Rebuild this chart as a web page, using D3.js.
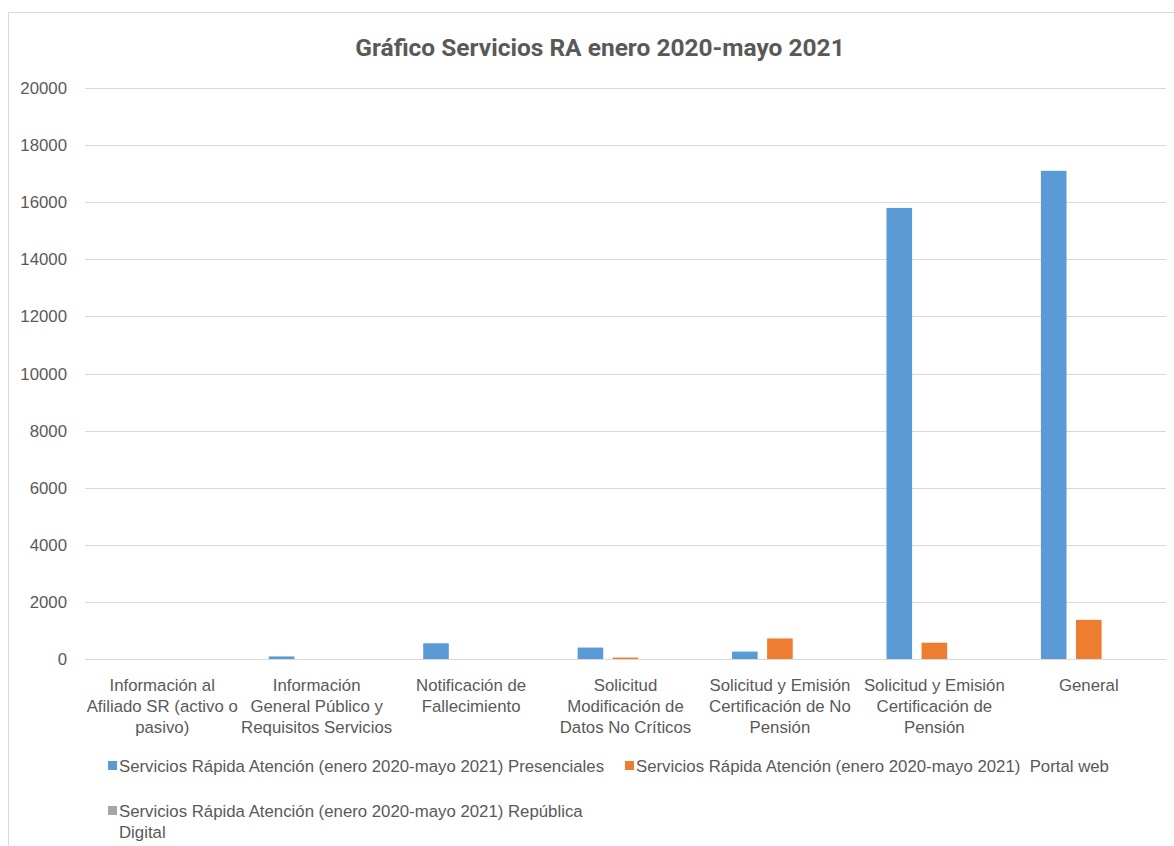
<!DOCTYPE html>
<meta charset="utf-8">
<style>
body { margin: 0; background: #fff; }
text { font-family: "Liberation Sans", Arial, sans-serif; fill: #595959; }
.title { font-family: Roboto, sans-serif; font-weight: bold; font-size: 24.5px; }
.tick-label { font-size: 16.8px; }
.cat-label { font-size: 16.8px; }
.legend-label { font-size: 16.8px; }
.grid line { stroke: #d9d9d9; stroke-width: 1; }
</style>
<svg width="1174" height="846"></svg>
<script src="https://d3js.org/d3.v7.min.js"></script>
<script>

var categories = [
  "Información al|Afiliado SR (activo o|pasivo)",
  "Información|General Público y|Requisitos Servicios",
  "Notificación de|Fallecimiento",
  "Solicitud|Modificación de|Datos No Críticos",
  "Solicitud y Emisión|Certificación de No|Pensión",
  "Solicitud y Emisión|Certificación de|Pensión",
  "General"
];
var seriesNames = [
  "Servicios Rápida Atención (enero 2020-mayo 2021) Presenciales",
  "Servicios Rápida Atención (enero 2020-mayo 2021)  Portal web",
  "Servicios Rápida Atención (enero 2020-mayo 2021) República|Digital"
];
var presenciales = [0, 90, 550, 400, 260, 15800, 17100];
var portalWeb = [0, 0, 0, 50, 720, 570, 1370];
var republicaDigital = [0, 0, 0, 0, 0, 0, 0];
var colors = ["#5b9bd5", "#ed7d31", "#a5a5a5"];
var yTicks = [0, 2000, 4000, 6000, 8000, 10000, 12000, 14000, 16000, 18000, 20000];

var series = [presenciales, portalWeb, republicaDigital];

var svg = d3.select("svg");

// frame
svg.append("path")
    .attr("d", "M8.5,846 V12.5 H1174")
    .attr("fill", "none")
    .attr("stroke", "#d9d9d9");

svg.append("text")
    .attr("class", "title")
    .attr("x", 600)
    .attr("y", 56)
    .attr("text-anchor", "middle")
    .text("Gráfico Servicios RA enero 2020-mayo 2021");

var x0 = d3.scaleBand()
    .domain(d3.range(categories.length))
    .range([85, 1166])
    .paddingInner(0.38)
    .paddingOuter(0.19);

var x1 = d3.scaleBand()
    .domain(d3.range(series.length))
    .range([0, x0.bandwidth()])
    .paddingInner(0.27);

var y = d3.scaleLinear()
    .domain([0, 20000])
    .range([659, 88]);

// gridlines
svg.append("g")
    .attr("class", "grid")
    .selectAll("line")
    .data(yTicks)
    .enter()
    .append("line")
    .attr("x1", 85)
    .attr("x2", 1166)
    .attr("y1", function(d) { return Math.round(y(d)) + 0.5; })
    .attr("y2", function(d) { return Math.round(y(d)) + 0.5; });

svg.append("g")
    .selectAll("text")
    .data(yTicks)
    .enter()
    .append("text")
    .attr("class", "tick-label")
    .attr("x", 67)
    .attr("y", function(d) { return y(d) + 6; })
    .attr("text-anchor", "end")
    .text(function(d) { return d; });

// bars
var groups = svg.append("g")
    .selectAll("g")
    .data(categories)
    .enter()
    .append("g")
    .attr("transform", function(d, i) { return "translate(" + x0(i) + ",0)"; });

groups.selectAll("rect")
    .data(function(d, i) {
      return series.map(function(s, k) { return { k: k, v: s[i] }; });
    })
    .enter()
    .append("rect")
    .attr("x", function(d) { return x1(d.k); })
    .attr("width", x1.bandwidth())
    .attr("y", function(d) { return y(d.v); })
    .attr("height", function(d) { return y(0) - y(d.v); })
    .attr("fill", function(d) { return colors[d.k]; });

// category labels
svg.append("g")
    .selectAll("text")
    .data(categories)
    .enter()
    .append("text")
    .attr("class", "cat-label")
    .attr("text-anchor", "middle")
    .attr("x", function(d, i) { return x0(i) + x0.bandwidth() / 2; })
    .attr("y", 691)
    .each(function(d) {
      var t = d3.select(this);
      d.split("|").forEach(function(line, j) {
        t.append("tspan")
          .attr("x", t.attr("x"))
          .attr("dy", j === 0 ? 0 : 21)
          .text(line);
      });
    });

// legend
var legendPos = [[108, 766], [625, 766], [108, 811]];
var legend = svg.append("g")
    .selectAll("g")
    .data(seriesNames)
    .enter()
    .append("g")
    .attr("transform", function(d, i) { return "translate(" + legendPos[i] + ")"; });

legend.append("rect")
    .attr("x", 0)
    .attr("y", -5)
    .attr("width", 9)
    .attr("height", 9)
    .attr("fill", function(d, i) { return colors[i]; });

legend.append("text")
    .attr("class", "legend-label")
    .attr("x", 11)
    .attr("y", 6)
    .each(function(d) {
      var t = d3.select(this);
      d.split("|").forEach(function(line, j) {
        t.append("tspan")
          .attr("x", 11)
          .attr("dy", j === 0 ? 0 : 21)
          .attr("xml:space", "preserve")
          .text(line);
      });
    });

</script>
